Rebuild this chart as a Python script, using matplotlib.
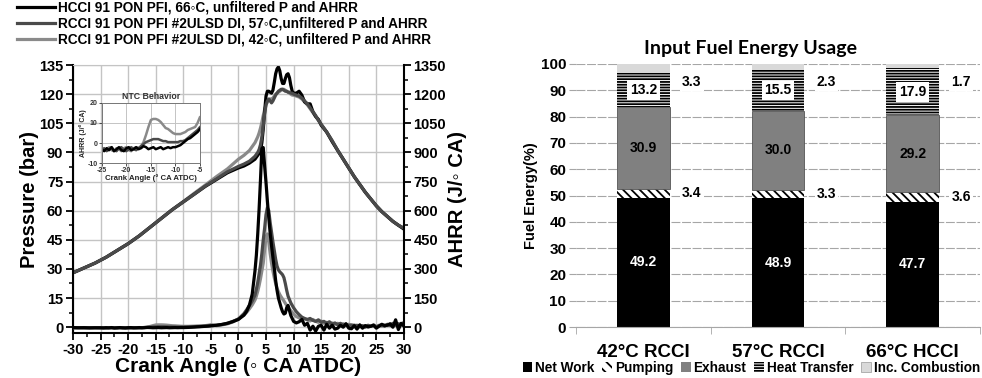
import numpy as np
import matplotlib
matplotlib.use('Agg')
import matplotlib.pyplot as plt
from matplotlib.patches import Patch
from matplotlib.ticker import MultipleLocator

plt.rcParams['font.family'] = ['Liberation Sans', 'DejaVu Sans']
plt.rcParams['font.weight'] = 'bold'
plt.rcParams['axes.labelweight'] = 'bold'
plt.rcParams['axes.unicode_minus'] = False
plt.rcParams['hatch.linewidth'] = 1.3

# ---- cylinder pressure (bar) vs crank angle ----
ca_p = [-30, -28, -26, -24, -22, -20, -18, -16, -14, -12, -10, -8, -6, -4, -2,
        0, 1, 2, 3,
        3.5, 3.75, 4, 4.25, 4.5, 4.75, 5, 5.25, 5.5, 5.75, 6, 6.25, 6.5, 6.75,
        7, 7.25, 7.5, 7.75, 8, 8.25, 8.5, 8.75, 9, 9.25, 9.5, 9.75, 10,
        10.5, 11, 11.5, 12, 12.5, 13, 13.5, 14, 14.5, 15,
        16, 17, 18, 19, 20, 21, 22, 23, 24, 25, 26, 27, 28, 29, 30]

p_hcci66 = [28, 30.5, 33, 36, 39.5, 43, 47, 51.5, 56, 60.5, 64.5, 68.5, 72.5, 76, 79.5,
            82, 83, 84.5, 86.5,
            88.5, 89.5, 91, 95, 102, 111, 119, 121.5, 121.5, 121, 120.5, 122, 126, 130.5,
            133, 134, 132, 128, 125.5, 125.5, 128, 130, 130.5, 128.5, 124.5, 121.5, 120.5,
            120.5, 121.5, 119.5, 116, 115, 115, 111, 108.5, 107, 104,
            100.5, 95.5, 91, 86.5, 82, 77.5, 73.5, 69.5, 66, 62.5, 59.5, 57, 54.5, 52.5, 50.5]

p_rcci57 = [28, 30.5, 33, 36, 39.5, 43, 47, 51.5, 56, 60.5, 64.5, 68.5, 72.7, 76.3, 80,
            82.8, 84, 85.5, 88,
            90, 91.5, 94, 98, 104, 110, 114.5, 116.5, 117.5, 116.5, 115.5, 116.5, 118, 119.5,
            120.5, 121.5, 122, 122.5, 122.5, 122, 121.5, 121.5, 121, 121, 120.5, 120.5, 120,
            119.5, 119, 118, 116.5, 115, 113, 111, 109, 106.5, 104.5,
            100.5, 96, 91, 86.5, 82, 77.5, 73.5, 69.5, 66, 62.5, 59.5, 57, 54.5, 52.5, 51]

p_rcci42 = [28, 30.5, 33, 36, 39.5, 43, 47, 51.5, 56, 60.5, 64.7, 69, 73.2, 77.5, 81.5,
            86.5, 88.5, 91, 95,
            98, 100, 102.5, 105.5, 109, 112, 114.5, 116, 117, 117.5, 117.5, 118, 119, 120,
            120.5, 121, 121.5, 122, 122.5, 122.5, 122, 121.5, 121, 120.5, 120, 119.5, 119.5,
            119, 118.5, 117.5, 116, 114.5, 112.5, 110.5, 108.5, 106.5, 104.5,
            100.5, 96, 91, 86.5, 82, 77.5, 73.5, 69.5, 66, 62.5, 59.5, 57, 54.5, 52.5, 51]

# ---- apparent heat release rate (J/deg CA) ----
# finer steps in the NTC window (-25..-5) and around the main heat release
ca_hr = np.concatenate([np.arange(-30, -25.5, 1.0),
                        np.arange(-25, -4.9, 0.5),
                        [-4, -3, -2, -1, 0, 1, 1.5, 2, 2.5],
                        np.arange(3, 9.01, 0.25),
                        np.arange(9.5, 30.01, 0.5)])

hr_hcci66 = [-2, -3, -2.5, -3.5, -3,
             -3, -4, -2.5, -3.5, -2, -4, -3, -2, -3.5, -4,
             -2.5, -2, -3.5, -3, -2, -3, -2.5, -1.5, -2, -3,
             -2.5, -2, -3, -2.5, -2, -3, -2.5, -2, -2.5, -2,
             -2, -1.5, -1, 0, 1, 2, 2.5, 3.5, 4.5, 5.5, 7,
             10, 14, 20, 29, 40, 62, 82, 115, 170,
             290, 370, 480, 610, 760, 920, 925, 830, 745, 650,
             565, 485, 420, 360, 305, 240, 190, 150, 125, 100,
             80, 68, 72, 100, 112,
             60, 30, 22, 28, 40, 10, 20, -15, 5, -20,
             5, 10, -15, 15, -5, 10, -10, -5, 10, 0,
             18, -5, -8, 8, -10, 12, -5, 8, 2, 5,
             10, -5, 5, 15, 8, 10, 18, 0, 38, -12,
             20, 5]

hr_rcci57 = [-3, -2.5, -3.5, -3, -2.5,
             -3.5, -2.5, -4, -3, -2, -3.5, -4, -2.5, -2, -3.5,
             -4, -3, -2, -3, -3.5, -2.5, -1.5, -0.5, 0.5, 1,
             1.5, 2, 2, 2, 1.5, 1, 1, 0.5, 0.5, 0.5,
             0.5, 0.5, 1, 1, 1.5, 2.5, 3.5, 4.5, 5.5, 6.5, 8,
             10, 14, 20, 30, 42, 70, 90, 112, 135,
             165, 195, 230, 275, 320, 380, 450, 510, 580, 615,
             600, 540, 490, 440, 395, 350, 315, 295, 285, 278,
             270, 255, 225, 190, 160,
             125, 100, 80, 65, 52, 45, 40, 45, 35, 30,
             38, 25, 30, 20, 28, 15, 22, 12, 20, 10,
             15, 8, 12, 5, 10, 2, 8, 0, 10, 5,
             12, 2, 8, 12, 5, 15, 8, 20, 10, 18,
             12, 25]

hr_rcci42 = [-2.5, -3, -2, -3.5, -3,
             -2.5, -3.5, -3, -2, -3.5, -4, -2.5, -3, -4, -2.5,
             -2, -3.5, -4, -2.5, -2, -2.5, -1.5, 0.5, 4, 8,
             11.5, 12, 12, 11.5, 10.5, 9, 7.5, 7, 6, 5,
             4.5, 4.5, 4.5, 5, 5.5, 6.5, 7, 7.5, 8, 10, 13,
             8, 12, 17, 27, 43, 62, 77, 95, 115,
             140, 160, 185, 215, 250, 290, 330, 400, 465, 480,
             440, 380, 330, 290, 255, 225, 200, 183, 168, 156,
             145, 135, 123, 112, 103,
             85, 68, 55, 48, 45, 42, 38, 32, 40, 30,
             25, 32, 20, 25, 18, 22, 15, 20, 12, 18,
             10, 15, 8, 12, 5, 10, 3, 8, 0, 5,
             8, 2, 10, 5, 12, 8, 15, 5, 12, 8,
             15, 20]

case_labels = ['HCCI 91 PON PFI, 66\u25e6C, unfiltered P and AHRR',
               'RCCI 91 PON PFI #2ULSD DI, 57\u25e6C,unfiltered P and AHRR',
               'RCCI 91 PON PFI #2ULSD DI, 42\u25e6C, unfiltered P and AHRR']
case_colors = ['#000000', '#4a4a4a', '#8a8a8a']
pressures = [p_hcci66, p_rcci57, p_rcci42]
heat_rates = [hr_hcci66, hr_rcci57, hr_rcci42]

# ---- energy balance (% of input fuel energy) ----
modes = ['42°C RCCI', '57°C RCCI', '66°C HCCI']
net_work = [49.2, 48.9, 47.7]
pumping = [3.4, 3.3, 3.6]
exhaust = [30.9, 30.0, 29.2]
heat_transfer = [13.2, 15.5, 17.9]
inc_combustion = [3.3, 2.3, 1.7]

fig = plt.figure(figsize=(9.82, 3.78), dpi=100)

# ================= pressure / AHRR =================
ax = fig.add_axes([0.0743, 0.119, 0.337, 0.709])
ax2 = ax.twinx()

# 57 C trace goes on top so the shared compression line reads dark gray
for i in [2, 0, 1]:
    ax.plot(ca_p, pressures[i], color=case_colors[i], lw=2.3, label=case_labels[i])
for i in [2, 1, 0]:
    ax2.plot(ca_hr, heat_rates[i], color=case_colors[i], lw=2.3)

ax.set_xlim(-30, 30)
ax.set_ylim(-3, 135)
ax2.set_ylim(-30, 1350)
ax.xaxis.set_major_locator(MultipleLocator(5))
ax.xaxis.set_minor_locator(MultipleLocator(2.5))
ax.yaxis.set_major_locator(MultipleLocator(15))
ax.yaxis.set_minor_locator(MultipleLocator(7.5))
ax2.yaxis.set_major_locator(MultipleLocator(150))
ax2.yaxis.set_minor_locator(MultipleLocator(75))
ax.grid(True, which='major', color='#c4c4c4', lw=1.0)
ax.set_axisbelow(True)

for a in (ax, ax2):
    a.tick_params(which='major', direction='out', length=5, width=1.3, labelsize=10.5, pad=2)
    a.tick_params(which='minor', direction='out', length=3, width=1.1)
for lab in ax.get_xticklabels() + ax.get_yticklabels() + ax2.get_yticklabels():
    lab.set_fontweight('bold')

for s in ('left', 'bottom'):
    ax.spines[s].set_linewidth(1.5)
ax.spines['top'].set_color('#c4c4c4')
ax.spines['right'].set_visible(False)
ax2.spines['right'].set_linewidth(1.5)
for s in ('left', 'bottom', 'top'):
    ax2.spines[s].set_visible(False)

ax.set_xlabel('Crank Angle (\u25e6 CA ATDC)', fontsize=15, labelpad=0)
ax.set_ylabel('Pressure (bar)', fontsize=14.5, labelpad=0)
ax2.set_ylabel('AHRR (J/\u25e6 CA)', fontsize=14.5, labelpad=1)

handles, labels = ax.get_legend_handles_labels()
order = [1, 2, 0]
fig.legend([handles[k] for k in order], [labels[k] for k in order],
           loc='upper left', bbox_to_anchor=(0.017, 0.998), frameon=False,
           fontsize=9.8, handlelength=2.8, handletextpad=0.2, labelspacing=0.15,
           borderpad=0, borderaxespad=0)

# NTC window inset
axin = fig.add_axes([0.1036, 0.568, 0.1001, 0.160])
axin.set_facecolor('white')
for i in [2, 1, 0]:
    axin.plot(ca_hr, heat_rates[i], color=case_colors[i], lw=1.8)
axin.set_xlim(-25, -5)
axin.set_ylim(-10, 20)
axin.set_xticks([-25, -20, -15, -10, -5])
axin.set_yticks([-10, 0, 10, 20])
axin.grid(True, color='#c4c4c4', lw=0.7)
axin.tick_params(labelsize=5, length=2, width=0.6, pad=1, colors='#333333')
for s in axin.spines.values():
    s.set_color('#777777')
    s.set_linewidth(0.7)
axin.set_title('NTC Behavior', fontsize=6.3, fontweight='bold', pad=3, color='#333333')
axin.set_xlabel('Crank Angle (° CA ATDC)', fontsize=5.6, labelpad=0, color='#222222')
axin.set_ylabel('AHRR (J/° CA)', fontsize=5, labelpad=0, color='#222222')

# ================= energy balance =================
ax3 = fig.add_axes([0.5866, 0.1349, 0.4114, 0.6958])
x = np.arange(len(modes))
w = 0.39
b1 = np.array(net_work)
b2 = b1 + np.array(pumping)
b3 = b2 + np.array(exhaust)
b4 = b3 + np.array(heat_transfer)

ax3.bar(x, net_work, w, color='black', zorder=2)
ax3.bar(x, pumping, w, bottom=b1, facecolor='white', edgecolor='black',
        hatch='\\\\\\\\', linewidth=0, zorder=2)
ax3.bar(x, exhaust, w, bottom=b2, color='#808080', edgecolor='#555555', linewidth=0.6, zorder=2)
ax3.bar(x, heat_transfer, w, bottom=b3, facecolor='white', edgecolor='black',
        hatch='------', linewidth=0, zorder=2)
ax3.bar(x, inc_combustion, w, bottom=b4, color='#d9d9d9', zorder=2)

lab_kw = dict(ha='center', va='center', fontsize=10, fontweight='bold', zorder=4)
for i in range(len(modes)):
    ax3.text(x[i], net_work[i] / 2, f'{net_work[i]:.1f}', color='white', **lab_kw)
    ax3.text(x[i] + 0.36, b1[i] + pumping[i] / 2, f'{pumping[i]:.1f}',
             bbox=dict(facecolor='white', edgecolor='none', pad=1.5), **lab_kw)
    ax3.text(x[i], b2[i] + exhaust[i] / 2, f'{exhaust[i]:.1f}', color='black', **lab_kw)
    ax3.text(x[i], b3[i] + heat_transfer[i] / 2, f'{heat_transfer[i]:.1f}',
             bbox=dict(facecolor='white', edgecolor='none', pad=2), **lab_kw)
    ax3.text(x[i] + 0.36, 93, f'{inc_combustion[i]:.1f}',
             bbox=dict(facecolor='white', edgecolor='none', pad=1.5), **lab_kw)

ax3.set_xlim(-0.5, 2.5)
ax3.set_ylim(0, 100)
ax3.yaxis.set_major_locator(MultipleLocator(10))
ax3.yaxis.grid(True, color='#a6a6a6', lw=0.8, linestyle=(0, (8, 1.5)))
ax3.set_axisbelow(True)
ax3.set_xticks(x)
ax3.set_xticklabels(modes, fontsize=13.5, fontweight='bold')
ax3.set_xticks([-0.5, 0.5, 1.5, 2.5], minor=True)
ax3.tick_params(axis='x', which='major', length=0, pad=12)
ax3.tick_params(axis='x', which='minor', length=5, color='#a6a6a6', direction='out')
ax3.tick_params(axis='y', length=5, color='#a6a6a6', labelsize=11, pad=2)
for lab in ax3.get_yticklabels():
    lab.set_fontweight('bold')
for s in ('left', 'top', 'right'):
    ax3.spines[s].set_visible(False)
ax3.spines['bottom'].set_color('#a6a6a6')
ax3.set_ylabel('Fuel Energy(%)', fontsize=10.5, labelpad=2)

fig.text(0.764, 0.873, 'Input Fuel Energy Usage', ha='center', va='center',
         fontsize=14, fontweight='bold', family=['Lato', 'DejaVu Sans'])

legend_handles = [Patch(facecolor='black'),
                  Patch(facecolor='white', edgecolor='black', hatch='\\\\\\', linewidth=0),
                  Patch(facecolor='#808080'),
                  Patch(facecolor='white', edgecolor='black', hatch='------', linewidth=0),
                  Patch(facecolor='#d9d9d9', edgecolor='#a6a6a6', linewidth=0.6)]
legend_labels = ['Net Work', 'Pumping', 'Exhaust', 'Heat Transfer', 'Inc. Combustion']
fig.legend(legend_handles, legend_labels, loc='center', bbox_to_anchor=(0.765, 0.027),
           ncol=5, frameon=False, fontsize=9.8, handlelength=0.7, handleheight=0.7,
           handletextpad=0.2, columnspacing=0.6, borderpad=0)

fig.savefig('out.png', dpi=100)
